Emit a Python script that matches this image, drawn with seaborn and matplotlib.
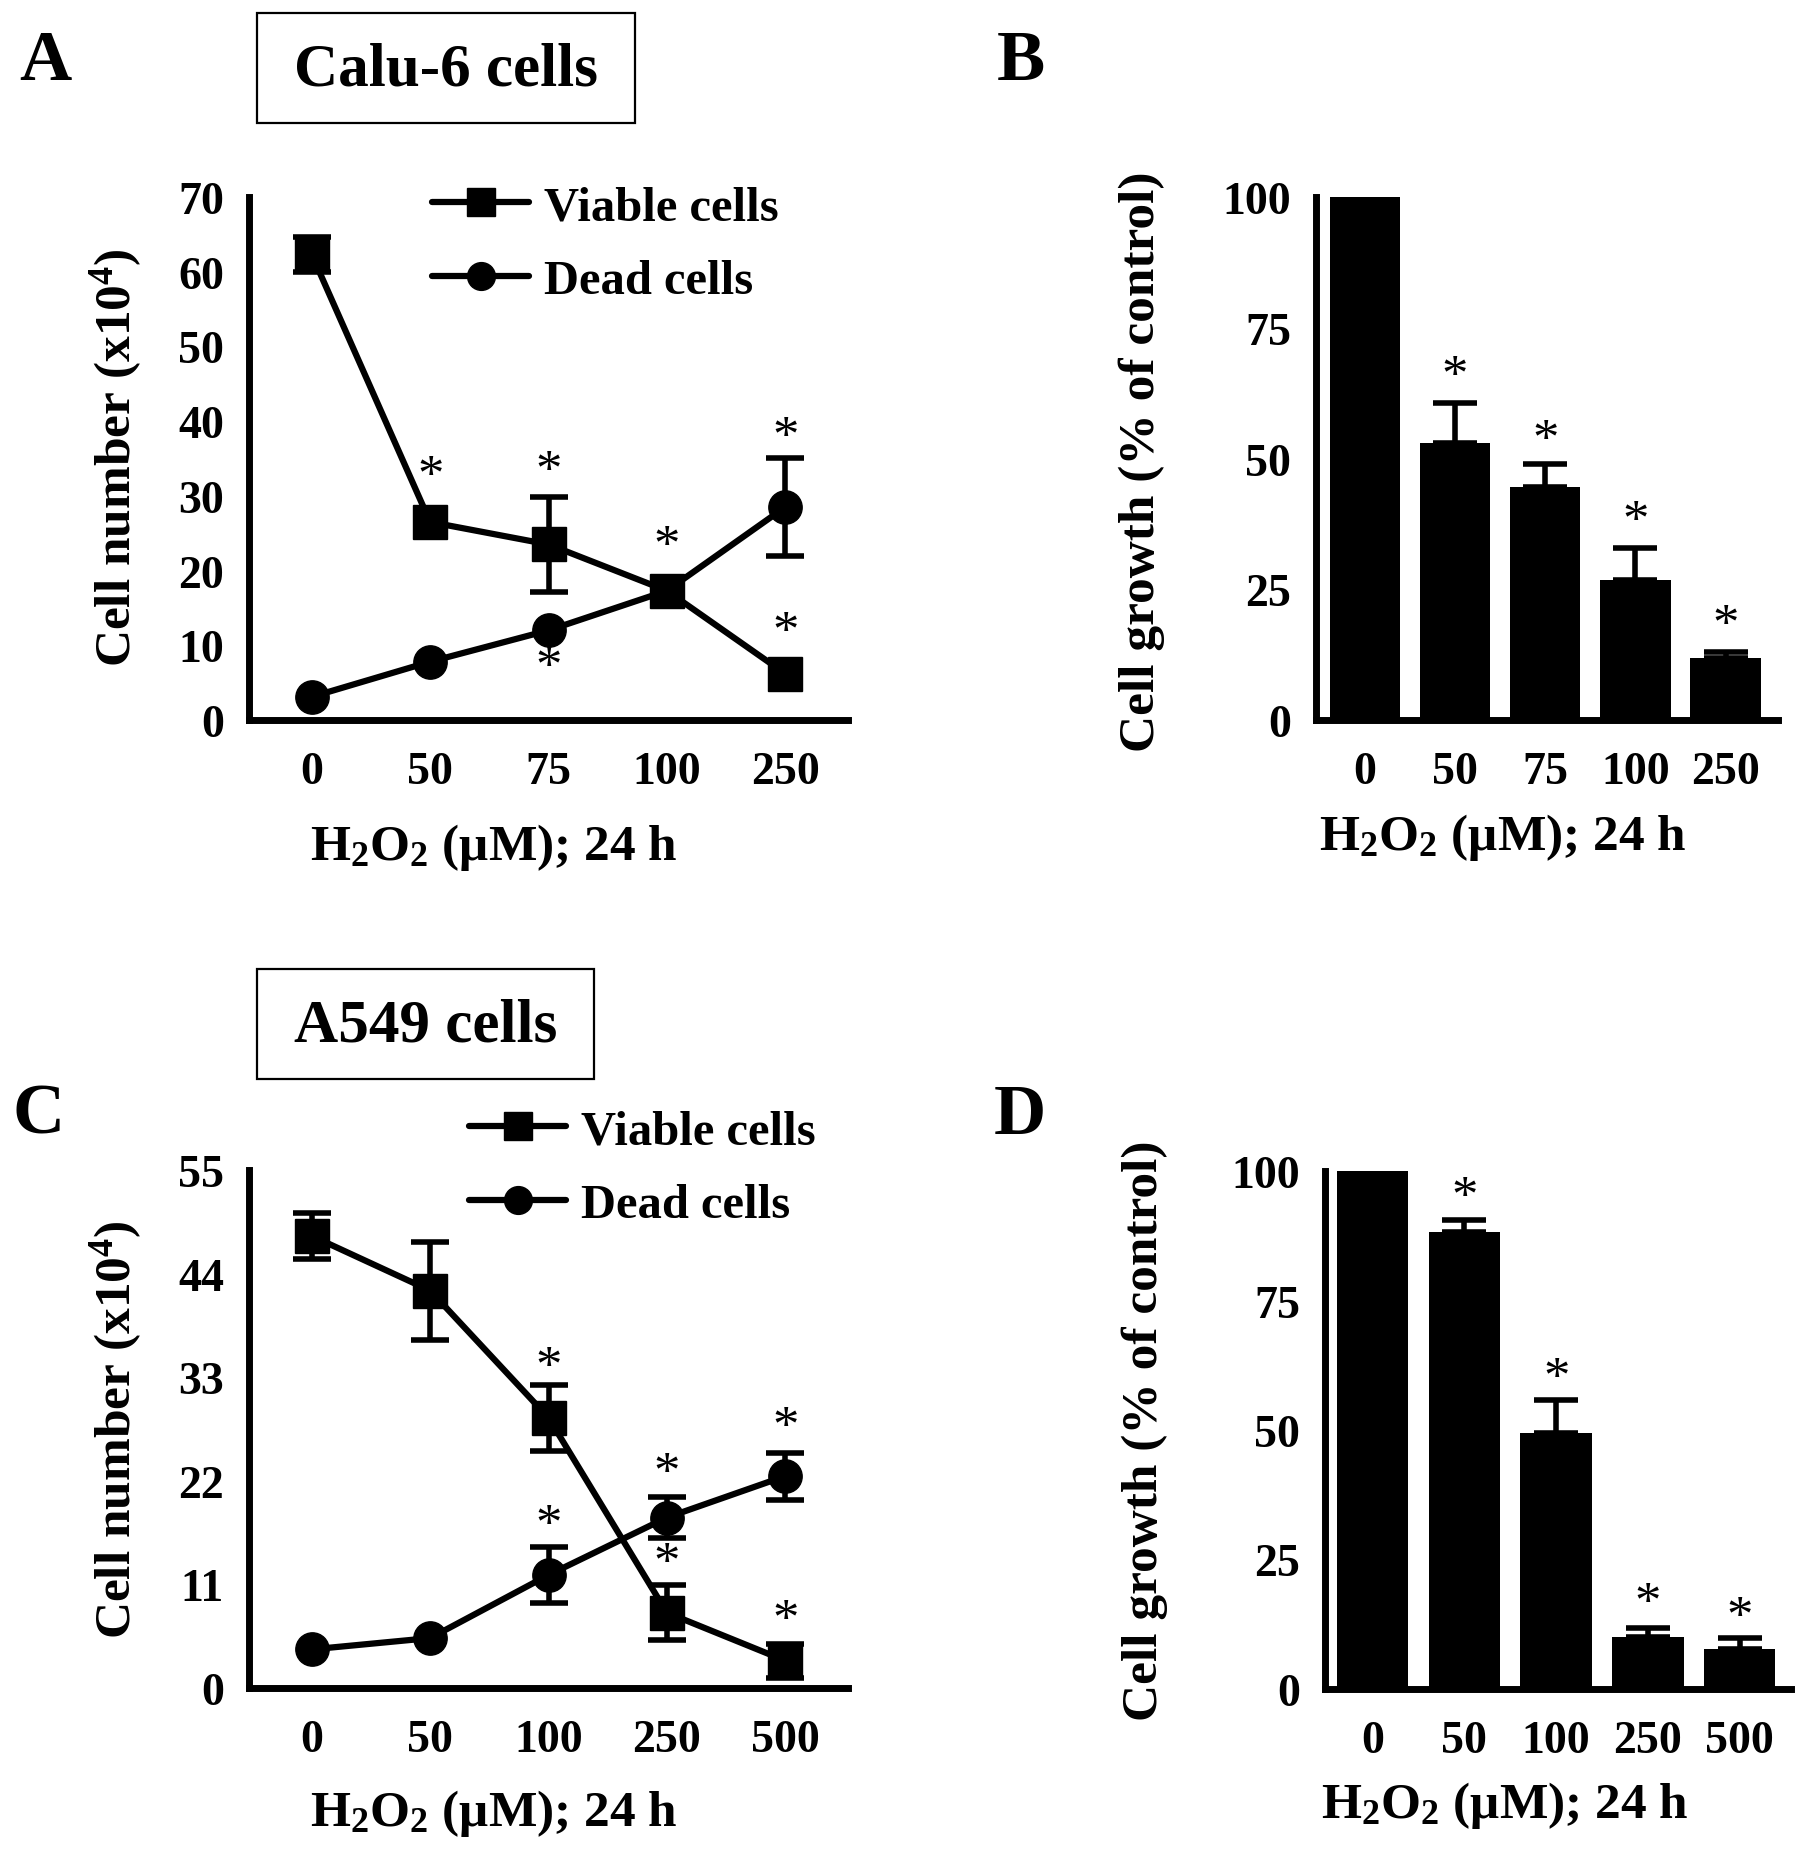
import numpy as np
import pandas as pd
import matplotlib
matplotlib.use("Agg")
import matplotlib.pyplot as plt
from matplotlib.patches import Rectangle
import seaborn as sns

# ---------------- data ----------------
doses_A = ["0", "50", "75", "100", "250"]
viable_A = [62.3, 26.5, 23.5, 17.3, 6.2]
viable_A_err = [2.3, 0, 6.4, 0, 0]
dead_A = [3.1, 7.8, 12.0, 17.3, 28.5]
dead_A_err = [0, 0, 0, 0, 6.6]
stars_A_y = [32.5, 33.2, 23.1, 37.8, 11.6, 6.9]
stars_A_x = [1, 2, 3, 4, 4, 2]

doses_C = ["0", "50", "100", "250", "500"]
viable_C = [48.0, 42.2, 28.7, 8.0, 2.9]
viable_C_err = [2.4, 5.2, 3.5, 2.9, 1.8]
dead_C = [4.1, 5.3, 12.0, 18.1, 22.5]
dead_C_err = [0, 0, 3.0, 2.2, 2.5]
stars_C_y = [34.0, 17.2, 22.7, 13.2, 27.6, 7.1]
stars_C_x = [2, 2, 3, 3, 4, 4]

growth_B = [100, 53.0, 44.5, 26.8, 11.9]
growth_B_err = [0, 7.7, 4.5, 6.1, 1.1]
stars_B_y = [65.6, 53.4, 37.9, 18.0]
stars_B_x = [1, 2, 3, 4]

doses_D = ["0", "50", "100", "250", "500"]
growth_D = [100, 88.3, 49.5, 10.1, 7.7]
growth_D_err = [0, 2.2, 6.3, 1.6, 2.1]
stars_D_y = [94.8, 59.9, 16.5, 13.7]
stars_D_x = [1, 2, 3, 4]

legend_labels = ["Viable cells", "Dead cells"]
xlabel_text = "H$_2$O$_2$ (\u03bcM); 24 h"
ylabel_line = "Cell number (x10$^4$)"
ylabel_bar = "Cell growth (% of control)"

# ---------------- style ----------------
sns.set_theme(style="white")
plt.rcParams["font.family"] = ["Liberation Serif", "DejaVu Serif"]
plt.rcParams["font.weight"] = "bold"
plt.rcParams["mathtext.fontset"] = "custom"
plt.rcParams["mathtext.rm"] = "Liberation Serif:bold"
plt.rcParams["mathtext.it"] = "Liberation Serif:italic:bold"
plt.rcParams["mathtext.bf"] = "Liberation Serif:bold"
plt.rcParams["axes.edgecolor"] = "black"
plt.rcParams["text.color"] = "black"
plt.rcParams["axes.labelcolor"] = "black"
plt.rcParams["xtick.color"] = "black"
plt.rcParams["ytick.color"] = "black"

W, H = 1795, 1858
fig = plt.figure(figsize=(W / 100, H / 100), dpi=100)
fig.patch.set_facecolor("white")


def add_ax(left, right, top, bottom):
    return fig.add_axes([left / W, 1 - bottom / H, (right - left) / W, (bottom - top) / H])


def fx(x):
    return x / W


def fy(y):
    return 1 - y / H


TICK_FS = 33
LABEL_FS = 37
LEGEND_FS = 35
SPINE_LW = 5


def style_axes(ax, yticks, xlabels):
    sns.despine(ax=ax)
    for s in ["left", "bottom"]:
        ax.spines[s].set_linewidth(SPINE_LW)
        ax.spines[s].set_color("black")
    ax.set_yticks(yticks)
    ax.set_xticks(range(len(xlabels)))
    ax.set_xticklabels(xlabels)
    ax.tick_params(axis="both", which="major", length=11, width=5, color="black",
                   labelsize=TICK_FS, direction="out", pad=7, labelcolor="black")
    ax.tick_params(axis="x", pad=11)
    ax.set_xlabel("")
    ax.set_ylabel("")
    for lab in ax.get_xticklabels() + ax.get_yticklabels():
        lab.set_fontweight("bold")
    ax.set_facecolor("white")


def draw_err(ax, pos, vals, errs, lower=True, capsize=14):
    pos = np.asarray(pos)
    vals = np.asarray(vals, dtype=float)
    errs = np.asarray(errs, dtype=float)
    m = errs > 0
    if not m.any():
        return
    yerr = errs[m] if lower else [np.zeros(m.sum()), errs[m]]
    ax.errorbar(pos[m], vals[m], yerr=yerr, fmt="none", ecolor="black",
                elinewidth=4, capsize=capsize, capthick=4, zorder=2, clip_on=False)


def line_panel(ax, doses, viable, viable_err, dead, dead_err, ymax, yticks, legend_xy):
    pos = np.arange(len(doses))
    df = pd.DataFrame({
        "pos": np.concatenate([pos, pos]),
        "val": np.concatenate([viable, dead]),
        "type": [legend_labels[0]] * len(doses) + [legend_labels[1]] * len(doses),
    })
    sns.lineplot(data=df, x="pos", y="val", hue="type", style="type",
                 palette={legend_labels[0]: "black", legend_labels[1]: "black"},
                 markers={legend_labels[0]: "s", legend_labels[1]: "o"},
                 dashes=False, linewidth=4.5, markersize=24, markeredgecolor="black",
                 markeredgewidth=1, ax=ax, clip_on=False, zorder=3)
    draw_err(ax, pos, viable, viable_err, capsize=14)
    draw_err(ax, pos, dead, dead_err, capsize=14)
    handles, labels = ax.get_legend_handles_labels()
    for h in handles:
        h.set_markersize(20)
    ax.legend(handles, labels, loc="upper left",
              bbox_to_anchor=(fx(legend_xy[0]), fy(legend_xy[1])),
              bbox_transform=fig.transFigure, frameon=False,
              handlelength=2.0, handletextpad=0.3, labelspacing=0.62,
              borderpad=0, borderaxespad=0, prop={"weight": "bold", "size": LEGEND_FS})
    ax.set_xlim(-0.53, 4.53)
    ax.set_ylim(0, ymax)
    style_axes(ax, yticks, doses)


def bar_panel(ax, doses, growth, growth_err, xlim):
    df = pd.DataFrame({"dose": doses, "growth": growth})
    sns.barplot(data=df, x="dose", y="growth", order=doses, color="black",
                saturation=1, width=0.78, edgecolor="black", linewidth=0,
                errorbar=None, ax=ax)
    draw_err(ax, np.arange(len(doses)), growth, growth_err, lower=False, capsize=16)
    ax.set_xlim(*xlim)
    ax.set_ylim(0, 100)
    style_axes(ax, [0, 25, 50, 75, 100], doses)


def stars(ax, xs, ys):
    for x, y in zip(xs, ys):
        ax.text(x, y, "*", ha="center", va="center", fontsize=38,
                fontweight="normal", color="black", zorder=5)


# Panel A
axA = add_ax(249, 848, 198, 721)
line_panel(axA, doses_A, viable_A, viable_A_err, dead_A, dead_A_err,
           70, [0, 10, 20, 30, 40, 50, 60, 70], (432, 186))
stars(axA, stars_A_x, stars_A_y)

# Panel B
axB = add_ax(1316, 1778, 198, 721)
bar_panel(axB, doses_A, growth_B, growth_B_err, (-0.54, 4.58))
stars(axB, stars_B_x, stars_B_y)

# Panel C
axC = add_ax(249, 848, 1171, 1689)
line_panel(axC, doses_C, viable_C, viable_C_err, dead_C, dead_C_err,
           55, [0, 11, 22, 33, 44, 55], (469, 1110))
stars(axC, stars_C_x, stars_C_y)

# Panel D
axD = add_ax(1325, 1791, 1172, 1690)
bar_panel(axD, doses_D, growth_D, growth_D_err, (-0.52, 4.56))
stars(axD, stars_D_x, stars_D_y)

# axis labels
for (x, y) in [(116, 458), (116, 1430)]:
    fig.text(fx(x), fy(y), ylabel_line, rotation=90, ha="center", va="center",
             fontsize=LABEL_FS, fontweight="bold")
for (x, y) in [(1142, 462), (1145, 1431)]:
    fig.text(fx(x), fy(y), ylabel_bar, rotation=90, ha="center", va="center",
             fontsize=LABEL_FS, fontweight="bold")
for (x, y) in [(494, 860), (1503, 850), (494, 1826), (1505, 1818)]:
    fig.text(fx(x), fy(y), xlabel_text, ha="center", va="baseline",
             fontsize=LABEL_FS, fontweight="bold")

# panel letters
for (lab, x, y) in [("A", 45, 63), ("B", 1021, 62), ("C", 39, 1116), ("D", 1020, 1116)]:
    fig.text(fx(x), fy(y), lab, ha="center", va="center", fontsize=52, fontweight="bold")

# title boxes
for (txt, l, r, t, b) in [("Calu-6 cells", 257, 635, 14, 124), ("A549 cells", 257, 594, 970, 1080)]:
    fig.add_artist(Rectangle((fx(l), fy(b)), (r - l) / W, (b - t) / H,
                             transform=fig.transFigure, fill=False, ec="black", lw=1.6))
    fig.text(fx((l + r) / 2), fy((t + b) / 2 + 2), txt, ha="center", va="center",
             fontsize=44, fontweight="bold")

fig.savefig("out.png", dpi=100, facecolor="white")
